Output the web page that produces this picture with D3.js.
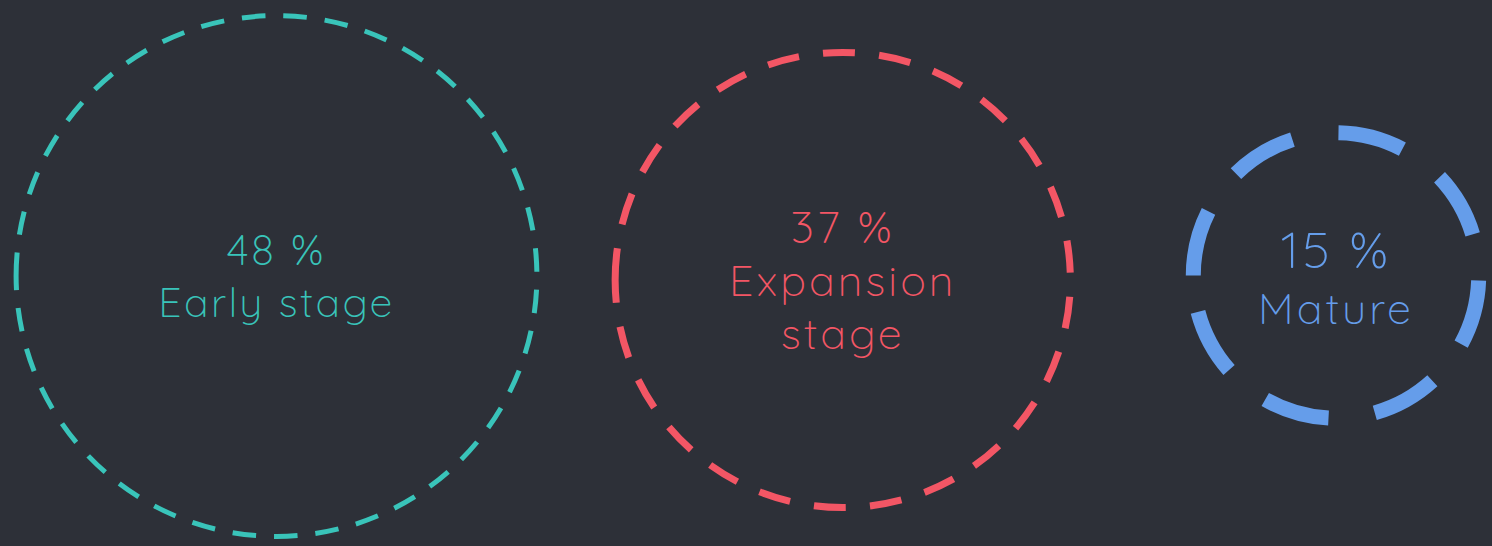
<!DOCTYPE html>
<html>
<head>
<meta charset="utf-8">
<script src="https://cdn.jsdelivr.net/npm/d3@7/dist/d3.min.js"></script>
<style>
  html, body { margin: 0; padding: 0; background: #2d3038; }
  svg { display: block; }
  text { font-family: Quicksand, Lato, "Open Sans", sans-serif; font-weight: 300; }
</style>
</head>
<body>
<svg id="chart" width="1492" height="546"></svg>
<script>
// ---- data ----
const categories = ["Early stage", "Expansion stage", "Mature"];
const values = [48, 37, 15];
const valueSuffix = " %";

// ---- styles / layout ----
const colors = ["#39c4ba", "#f35665", "#659dea"];
const strokeWidths = [5, 7, 15];
const dashPatterns = ["23.6 17.97", "32 24.27", "66.5 46.8"];
const centerX = [276.5, 842.75, 1336];
const centerY = [276, 280, 275.5];
const valueFontSizes = [43, 45, 51];
const labelFontSizes = [41, 43, 43];
const letterSpacings = [2.5, 3, 3];
const lineHeights = [52, 53, 56];
const textOffsets = [15, 16, 20.5];

const W = 1492, H = 546;
const svg = d3.select("#chart");
svg.append("rect").attr("width", W).attr("height", H).attr("fill", "#2d3038");

const rScale = d3.scalePow().exponent(0.517).domain([0, d3.max(values)]).range([0, 260.4]);
const xScale = d3.scaleOrdinal(categories, centerX);
const yScale = d3.scaleOrdinal(categories, centerY);
const color = d3.scaleOrdinal(categories, colors);

const data = categories.map((c, i) => ({cat: c, value: values[i], i}));

const g = svg.selectAll("g.bubble").data(data).join("g").attr("class", "bubble");

g.append("path")
  .attr("d", d => {
    const p = d3.path();
    const cx = xScale(d.cat), cy = yScale(d.cat), r = rScale(d.value);
    p.arc(cx, cy, r, Math.PI, 3 * Math.PI);
    return p.toString();
  })
  .attr("fill", "none")
  .attr("stroke", d => color(d.cat))
  .attr("stroke-width", d => strokeWidths[d.i])
  .attr("stroke-dasharray", d => dashPatterns[d.i]);

// text wrapping helper
const measurer = svg.append("text").attr("visibility", "hidden");
function wrap(label, maxW, fs, ls) {
  measurer.attr("font-size", fs).style("letter-spacing", ls + "px");
  const words = label.split(" ");
  const lines = [];
  let cur = "";
  words.forEach(w => {
    const test = cur ? cur + " " + w : w;
    measurer.text(test);
    if (measurer.node().getComputedTextLength() > maxW && cur) {
      lines.push(cur); cur = w;
    } else cur = test;
  });
  if (cur) lines.push(cur);
  return lines;
}

g.each(function(d) {
  const sel = d3.select(this);
  const cx = xScale(d.cat), cy = yScale(d.cat), r = rScale(d.value);
  const ls = letterSpacings[d.i];
  const labelLines = wrap(d.cat, r * 1.2, labelFontSizes[d.i], ls);
  const lines = [{t: d.value + valueSuffix, fs: valueFontSizes[d.i]}]
    .concat(labelLines.map(t => ({t, fs: labelFontSizes[d.i]})));
  const n = lines.length;
  const lh = lineHeights[d.i];
  const first = cy - (n - 1) * lh / 2 + textOffsets[d.i];
  lines.forEach((ln, k) => {
    sel.append("text")
      .attr("x", cx)
      .attr("y", first + k * lh)
      .attr("text-anchor", "middle")
      .attr("font-size", ln.fs)
      .style("letter-spacing", ls + "px")
      .attr("fill", color(d.cat))
      .text(ln.t);
  });
});
measurer.remove();
</script>
</body>
</html>
